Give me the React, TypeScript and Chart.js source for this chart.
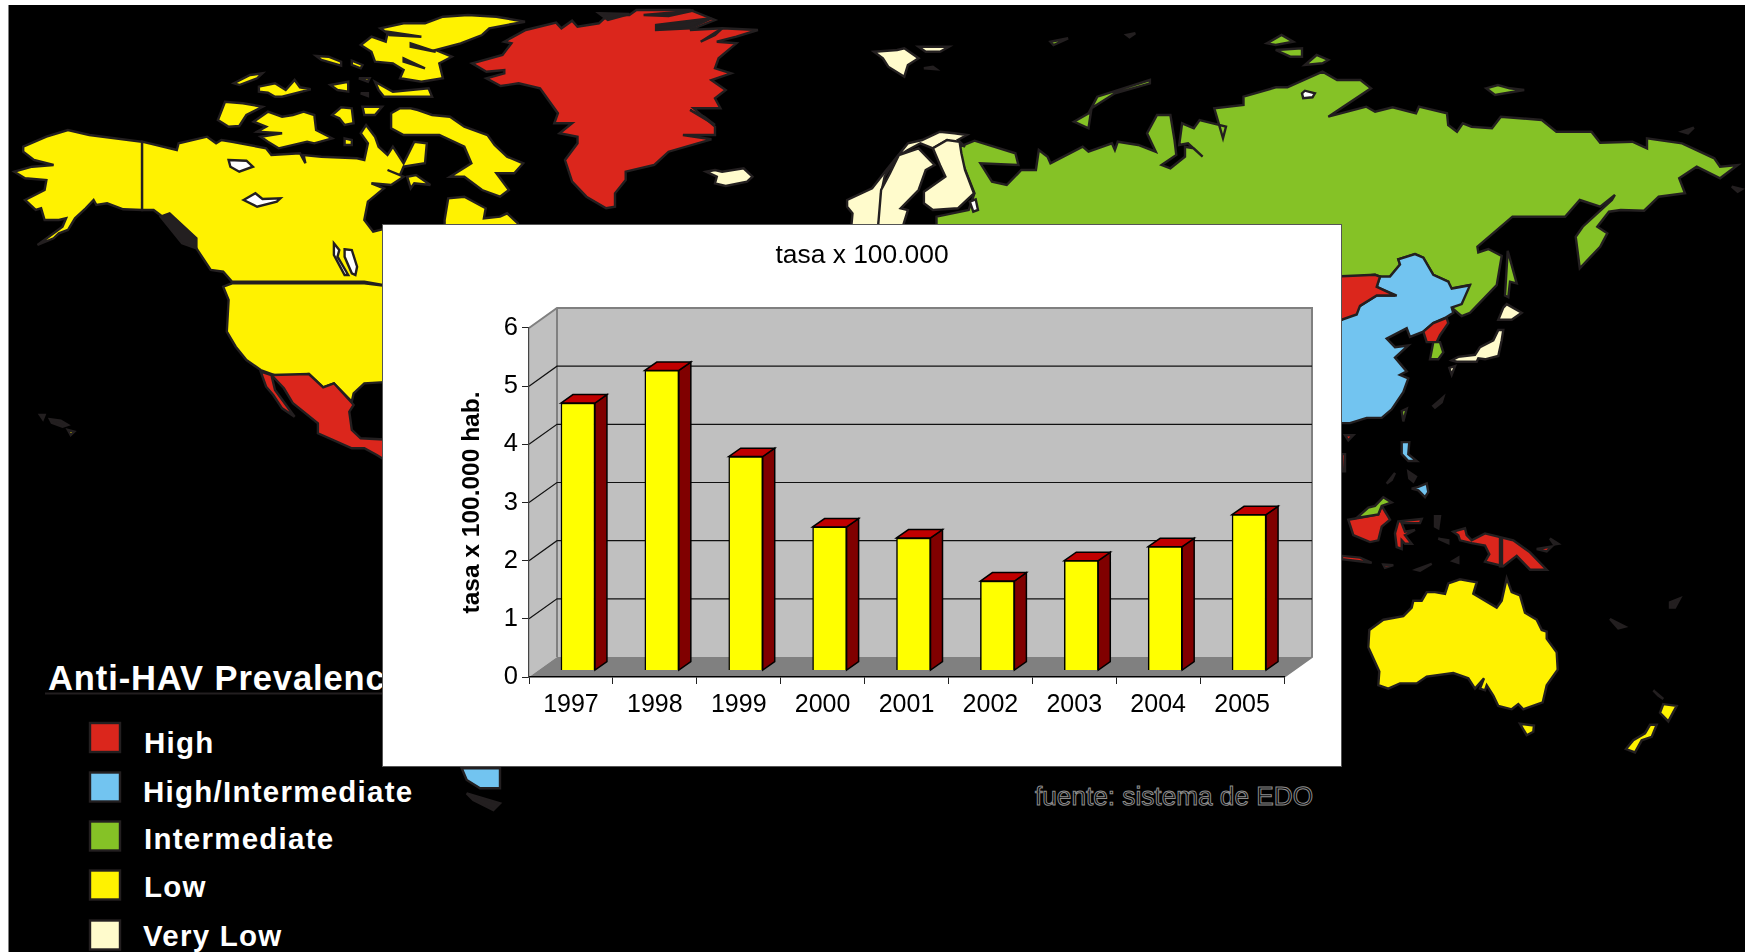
import React, { useEffect, useRef } from "react";
import { Chart, registerables } from "chart.js";

Chart.register(...registerables);

// Chart data
const years = ["1997", "1998", "1999", "2000", "2001", "2002", "2003", "2004", "2005"];
const rates = [4.6, 5.16, 3.68, 2.47, 2.28, 1.54, 1.89, 2.13, 2.68];
const chartTitle = "tasa x 100.000";
const axisTitle = "tasa x 100.000 hab.";
const sourceNote = "fuente: sistema de EDO";

// Legend
const legendTitle = "Anti-HAV Prevalence";
const legendLabels = ["High", "High/Intermediate", "Intermediate", "Low", "Very Low"];
const RED = "#DB261C";
const BLUE = "#72C4F0";
const GREEN = "#85C226";
const YELLOW = "#FFF200";
const CREAM = "#FFFBCC";
const LAKE = "#FFFFFF";
const DARK = "#231F20";
const legendColors = [RED, BLUE, GREEN, YELLOW, CREAM];

// Map outlines are stored per drawing sheet, each with its own origin and scale.
type Sheet = { ox: number; oy: number; sx: number; sy: number };
const WEST: Sheet = { ox: 0, oy: 0, sx: 2.8, sy: 3 };
const ATLANTIC: Sheet = { ox: 440, oy: 0, sx: 2.8, sy: 3 };
const SIBERIA: Sheet = { ox: 840, oy: 0, sx: 1.71, sy: 3 };
const PACIFIC: Sheet = { ox: 1330, oy: 230, sx: 3, sy: 2.9 };
const SOUTH: Sheet = { ox: 0, oy: 640, sx: 3, sy: 3 };

type Region = { fill: string; parts: [Sheet, string][] };
const one = (fill: string, sheet: Sheet, pts: string): Region => ({ fill, parts: [[sheet, pts]] });

const northAmerica: Region[] = [
  one(YELLOW, WEST, "65,440 130,410 190,390 250,405 398,425 398,630 345,628 300,610 270,615 262,600 240,625 210,655 190,690 165,700 150,715 105,735 150,700 175,680 185,655 165,660 125,660 115,625 100,630 70,600 125,570 130,540 70,535 40,515 90,500 150,495 95,480 65,455"),
  one(YELLOW, WEST, "398,425 495,450 500,430 580,410 605,430 620,420 650,425 745,445 760,465 840,460 855,490 850,465 900,470 1000,475 1020,480 1030,430 1010,400 1025,375 1050,410 1060,440 1085,465 1100,440 1130,490 1160,425 1195,430 1190,490 1130,500 1120,525 1085,510 1130,530 1095,555 1040,550 1075,565 1030,605 1020,660 1045,695 1100,680 1100,860 1020,845 650,845 625,815 590,810 550,745 510,715 455,650 430,630 398,630"),
  one(YELLOW, WEST, "1245,660 1255,595 1300,590 1360,625 1355,655 1400,650 1420,640 1450,670 1450,720 1245,720"),
  one(YELLOW, WEST, "650,850 1020,850 1100,860 1100,1145 1020,1150 990,1180 985,1205 935,1150 905,1162 865,1122 780,1130 730,1110 690,1080 660,1040 635,995 640,900 625,860"),
  one(RED, WEST, "760,1125 865,1122 905,1162 935,1150 985,1208 990,1215 978,1235 985,1290 1010,1315 1100,1320 1100,1395 1055,1365 1020,1345 985,1345 890,1300 890,1270 820,1210 795,1165"),
  one(RED, WEST, "730,1115 760,1125 770,1170 825,1250 790,1225 765,1185 745,1160"),
  one(YELLOW, WEST, "610,360 630,305 680,310 735,320 690,345 670,378 640,380"),
  one(YELLOW, WEST, "710,365 750,335 790,350 820,345 850,335 880,345 885,390 930,415 880,430 860,425 780,445 750,425 730,410 790,400 720,395 745,380"),
  one(YELLOW, WEST, "655,250 700,225 735,220 720,235 670,255"),
  one(YELLOW, WEST, "725,260 770,250 800,270 825,240 840,262 870,268 790,290 770,290 750,278 725,275"),
  one(YELLOW, WEST, "885,168 920,170 955,185 955,197 900,180"),
  one(YELLOW, WEST, "985,182 1015,195 1010,205 985,195"),
  one(YELLOW, WEST, "925,255 975,245 975,275 945,270"),
  one(YELLOW, WEST, "1005,235 1035,235 1030,245"),
  one(YELLOW, WEST, "1050,245 1100,275 1200,265 1210,290 1100,290 1075,290 1060,270"),
  one(YELLOW, WEST, "1010,280 1030,280 1030,288"),
  one(YELLOW, WEST, "930,345 955,322 985,325 990,370 965,375 950,355"),
  one(YELLOW, WEST, "1015,320 1070,320 1050,345 1020,345"),
  one(YELLOW, WEST, "965,415 985,420 985,435 965,435"),
  one(YELLOW, WEST, "1010,135 1040,110 1080,125 1085,100 1065,85 1130,70 1190,70 1240,50 1310,45 1390,50 1470,65 1370,85 1350,105 1290,130 1220,150 1265,170 1230,190 1240,235 1180,245 1120,235 1130,210 1100,190 1050,185 1040,155"),
  one(DARK, WEST, "1085,95 1180,110 1090,105"),
  one(DARK, WEST, "1150,130 1220,155 1150,140"),
  one(DARK, WEST, "1130,175 1190,205 1130,185"),
  one(YELLOW, WEST, "1095,340 1120,325 1150,325 1170,330 1210,345 1260,350 1300,380 1365,405 1385,435 1420,470 1465,490 1440,520 1390,520 1425,570 1400,590 1350,570 1300,530 1260,530 1320,490 1300,440 1230,405 1130,405 1095,385"),
  one(YELLOW, WEST, "1140,530 1165,525 1205,555 1160,550 1150,565"),
  one(DARK, WEST, "450,650 475,640 550,715 550,745 510,730"),
  one(LAKE, WEST, "640,480 690,482 708,500 670,515 645,500"),
  one(LAKE, WEST, "682,600 715,580 735,597 785,595 775,605 720,620"),
  one(LAKE, WEST, "935,730 950,750 945,770 975,825 965,825 935,765"),
  one(LAKE, WEST, "965,748 985,750 1000,800 995,825 985,820 965,770"),
  one(DARK, WEST, "112,1245 125,1245 120,1258"),
  one(DARK, WEST, "140,1258 170,1262 190,1275 175,1280 145,1268"),
  one(YELLOW, WEST, "190,1290 208,1295 198,1305"),
  one(BLUE, SOUTH, "1385,385 1500,385 1500,445 1440,445 1400,420"),
  one(DARK, SOUTH, "1400,460 1500,490 1480,510 1420,480"),
];

const greenlandAndNordics: Region[] = [
  one(RED, ATLANTIC, "90,190 175,165 200,130 180,125 240,90 325,68 340,85 370,62 385,80 445,70 470,45 530,45 550,30 700,30 770,60 700,90 790,85 890,90 830,110 775,125 830,130 780,175 770,205 815,220 760,240 800,270 770,295 785,325 710,325 770,380 770,405 680,405 760,418 640,455 600,495 520,515 520,540 490,580 490,620 465,625 410,590 370,545 350,480 385,430 385,410 335,400 370,370 320,370 330,340 280,265 220,250 170,258 130,235 180,220 180,210 130,215"),
  one(DARK, ATLANTIC, "605,75 760,55 700,85 605,90"),
  one(DARK, ATLANTIC, "730,125 790,85 770,105"),
  one(DARK, ATLANTIC, "570,45 710,32 640,48"),
  one(DARK, ATLANTIC, "445,40 530,42 470,60"),
  one(DARK, ATLANTIC, "700,330 770,375 740,350"),
  one(CREAM, ATLANTIC, "745,515 770,510 790,515 850,505 875,530 860,545 800,558 770,550 775,530"),
  one(CREAM, ATLANTIC, "1215,155 1280,150 1300,145 1340,175 1310,195 1300,230 1255,200 1240,175"),
  one(CREAM, ATLANTIC, "1340,140 1425,140 1400,155 1360,155"),
  one(CREAM, ATLANTIC, "1355,205 1380,200 1390,208"),
];

const eurasia: Region[] = [
  {
    fill: GREEN,
    parts: [
      [SIBERIA, "205,440 230,422 300,460 305,495 240,490 260,545 285,555 310,510 335,510 340,450 355,470 360,490 415,440 425,455 465,430 470,450 475,425 510,435 540,455 525,400 542,345 565,345 572,420 575,465 550,495 565,505 590,470 590,440 605,445 620,470 595,430 580,435 585,370 605,385 615,360 660,380 655,415 640,325 690,315 690,290 745,262 765,262 825,215 850,240 890,240 908,265 835,350 900,320 915,335 945,322 985,340 990,320 1038,340 1040,375 1055,395 1065,370 1080,380 1115,385 1130,350 1200,360 1225,395 1285,395 1300,428 1355,425 1380,445 1380,415 1440,430 1495,475 1505,500 1535,495 1505,535 1465,500 1435,535 1445,580 1400,590 1375,632 1335,630 1315,635 1295,680 1312,700 1300,740 1265,805 1258,710 1270,680 1320,600 1325,585 1300,620 1265,600 1240,650 1150,650 1090,740"],
      [PACIFIC, "445,65 475,55 515,75 500,160 420,240 395,250 365,225 415,160 360,170 355,150 310,130 280,80 255,70 205,85 210,100 180,135 150,135 135,130 35,140 -300,140"],
      [SIBERIA, "165,680 165,650 220,630 230,580 205,470"],
    ],
  },
  one(LAKE, SIBERIA, "222,605 232,598 236,630 228,635"),
  one(LAKE, SIBERIA, "790,280 795,272 812,280 808,292 792,295"),
  one(GREEN, SIBERIA, "400,365 425,340 440,290 530,240 530,250 470,280 430,325 425,385"),
  one(GREEN, SIBERIA, "730,130 755,105 775,125 745,135"),
  one(GREEN, SIBERIA, "745,150 790,145 790,170 770,170"),
  one(GREEN, SIBERIA, "795,195 815,165 835,180 825,190"),
  one(GREEN, SIBERIA, "1105,265 1125,255 1145,265 1170,270 1120,285"),
  one(GREEN, SIBERIA, "360,125 390,115 365,135"),
  one(GREEN, SIBERIA, "490,105 505,100 495,112"),
  one(DARK, SIBERIA, "1440,395 1460,383 1450,400"),
  one(DARK, SIBERIA, "1525,560 1542,568 1535,575"),
  one(CREAM, ATLANTIC, "1140,600 1210,565 1250,510 1310,430 1350,420 1400,395 1440,400 1475,405 1450,420 1470,440 1420,420 1380,445 1345,430 1310,450 1280,470 1245,530 1235,580 1235,620 1225,700 1150,700 1155,640 1140,620"),
  one(CREAM, ATLANTIC, "1235,570 1260,520 1285,465 1340,445 1385,495 1360,510 1340,570 1290,625 1310,630 1290,700 1225,700"),
  one(CREAM, ATLANTIC, "1380,445 1420,420 1455,425 1460,460 1470,510 1495,580 1450,625 1380,630 1355,610 1355,575 1415,530 1400,495"),
  one(BLUE, PACIFIC, "-100,260 35,260 90,220 140,190 200,190 140,165 150,135 180,135 210,100 205,85 255,70 280,80 310,130 355,150 365,170 420,160 395,215 365,225 370,240 345,255 310,270 280,295 240,310 230,285 170,315 195,340 235,335 195,370 230,410 210,420 235,430 220,470 185,520 155,545 110,545 60,560 -100,560"),
  one(RED, PACIFIC, "-100,140 135,130 150,135 140,165 195,190 140,190 90,220 80,245 35,260 -100,260"),
  one(RED, PACIFIC, "350,255 355,270 330,305 320,325 290,325 280,295 310,270"),
  one(GREEN, PACIFIC, "310,325 330,325 340,355 325,375 300,375"),
  one(GREEN, PACIFIC, "533,60 560,155 540,150 535,195 525,190"),
  one(CREAM, PACIFIC, "520,225 530,215 575,240 545,260 505,260"),
  one(CREAM, PACIFIC, "505,290 520,290 515,320 505,365 465,375 445,372 440,382 380,382 365,378 385,368 435,362 450,340 490,320"),
  one(CREAM, PACIFIC, "358,400 375,395 365,420"),
  one(GREEN, PACIFIC, "215,525 230,518 220,555"),
  one(RED, PACIFIC, "45,595 70,595 55,610"),
  one(RED, PACIFIC, "36,650 45,650 45,700 38,700"),
];

const oceania: Region[] = [
  one(BLUE, PACIFIC, "215,615 238,615 235,650 260,670 235,670 215,650"),
  one(BLUE, PACIFIC, "245,750 265,745 290,735 295,760 285,775 265,755"),
  one(DARK, PACIFIC, "310,510 340,485 335,500 315,515"),
  one(DARK, PACIFIC, "170,735 195,705 185,725"),
  one(DARK, PACIFIC, "235,700 258,715 250,730 238,720"),
  one(DARK, PACIFIC, "315,830 330,830 325,865 315,860"),
  one(DARK, PACIFIC, "325,895 355,900 355,908"),
  one(DARK, PACIFIC, "258,985 305,968 270,988"),
  one(DARK, PACIFIC, "368,960 385,950 385,965"),
  one(DARK, PACIFIC, "660,895 685,910 672,912"),
  one(DARK, PACIFIC, "840,1128 885,1150 865,1155"),
  one(DARK, PACIFIC, "1020,1080 1050,1068 1035,1095 1020,1095"),
  one(RED, PACIFIC, "55,840 145,825 155,800 180,840 155,860 145,900 120,905 70,885"),
  one(GREEN, PACIFIC, "80,835 115,805 135,800 160,775 185,790 155,800 145,825"),
  one(RED, PACIFIC, "205,845 275,838 270,850 215,850 225,875 255,870 225,885 245,910 225,910 215,900 215,925 200,920 195,880"),
  one(RED, PACIFIC, "370,875 405,865 410,885 425,900 465,880 550,900 600,935 650,985 600,985 560,945 520,975 465,962 478,940 465,915 425,908 390,900 385,885"),
  one(DARK, PACIFIC, "510,893 516,895 516,975 510,975"),
  one(RED, PACIFIC, "36,945 90,950 125,965 36,955"),
  one(RED, PACIFIC, "160,970 190,972 165,980"),
  one(RED, PACIFIC, "620,925 665,918 650,932"),
  one(YELLOW, PACIFIC, "118,1160 160,1130 220,1120 245,1095 250,1075 275,1075 290,1050 315,1050 345,1055 355,1025 390,1013 440,1022 430,1055 500,1095 515,1075 530,1010 545,1050 570,1060 585,1110 620,1130 635,1160 650,1165 650,1185 680,1225 683,1275 650,1320 638,1370 580,1390 565,1375 545,1390 505,1380 490,1350 470,1320 465,1335 450,1330 462,1300 435,1330 415,1300 370,1285 290,1295 260,1315 210,1315 175,1330 145,1320 148,1280 115,1210"),
  one(YELLOW, PACIFIC, "570,1432 612,1437 610,1455 590,1465"),
  one(YELLOW, PACIFIC, "1000,1375 1040,1380 1015,1425 990,1400"),
  one(YELLOW, PACIFIC, "960,1435 980,1435 965,1470 935,1480 915,1515 888,1505 910,1480 945,1460"),
  one(DARK, PACIFIC, "970,1335 1000,1360 985,1350"),
];

const landmasses = [...northAmerica, ...greenlandAndNordics, ...eurasia, ...oceania];

const regionPoints = (region: Region) =>
  region.parts
    .map(([s, pts]) =>
      pts
        .split(" ")
        .map((p) => {
          const [x, y] = p.split(",").map(Number);
          return `${(s.ox + x / s.sx).toFixed(1)},${(s.oy + y / s.sy).toFixed(1)}`;
        })
        .join(" ")
    )
    .join(" ");

// Legend layout
const swatchTops = [723, 772.5, 821.5, 870.5, 920.5];
const labelBaselines = [752.5, 801.5, 849, 896.5, 945.5];
const labelLefts = [144, 143, 144, 144, 143];

// 3D frame of the column chart
const WALL_DX = 28;
const WALL_DY = 20;
const BAR_SHIFT_X = 7;
const BAR_SHIFT_Y = -6.4;
const BAR_DX = 12;
const BAR_DY = 8.4;

const poly = (ctx: CanvasRenderingContext2D, pts: number[][], fill?: string, stroke?: string, width = 1) => {
  ctx.beginPath();
  pts.forEach(([x, y], i) => (i ? ctx.lineTo(x, y) : ctx.moveTo(x, y)));
  ctx.closePath();
  if (fill) {
    ctx.fillStyle = fill;
    ctx.fill();
  }
  if (stroke) {
    ctx.strokeStyle = stroke;
    ctx.lineWidth = width;
    ctx.lineJoin = "miter";
    ctx.stroke();
  }
};

const wallsPlugin = {
  id: "walls",
  beforeDraw(chart: any) {
    const { ctx, chartArea: a, scales } = chart;
    const { left: L, right: R, top: T, bottom: B } = a;
    const dx = WALL_DX;
    const dy = WALL_DY;
    ctx.save();
    poly(ctx, [[L + dx, T - dy], [R + dx, T - dy], [R + dx, B - dy], [L + dx, B - dy]], "#C0C0C0");
    poly(ctx, [[L, T], [L + dx, T - dy], [L + dx, B - dy], [L, B]], "#C0C0C0");
    poly(ctx, [[L, B], [L + dx, B - dy], [R + dx, B - dy], [R, B]], "#808080");
    ctx.strokeStyle = "#808080";
    ctx.lineWidth = 2;
    ctx.beginPath();
    ctx.moveTo(L, T);
    ctx.lineTo(L + dx, T - dy);
    ctx.lineTo(R + dx, T - dy);
    ctx.lineTo(R + dx, B - dy);
    ctx.lineTo(R, B);
    ctx.moveTo(L + dx, T - dy);
    ctx.lineTo(L + dx, B - dy);
    ctx.stroke();
    ctx.strokeStyle = "#111";
    ctx.lineWidth = 1.2;
    scales.y.ticks.forEach((t: any) => {
      if (t.value === scales.y.min || t.value === scales.y.max) return;
      const y = scales.y.getPixelForValue(t.value);
      ctx.beginPath();
      ctx.moveTo(L, y);
      ctx.lineTo(L + dx, y - dy);
      ctx.lineTo(R + dx, y - dy);
      ctx.stroke();
    });
    ctx.restore();
  },
  beforeDatasetDraw(chart: any, args: any) {
    const { ctx } = chart;
    ctx.save();
    ctx.translate(BAR_SHIFT_X, BAR_SHIFT_Y);
    args.meta.data.forEach((el: any) => {
      const { x, y, base, width } = el.getProps(["x", "y", "base", "width"], true);
      const l = x - width / 2;
      const r = x + width / 2;
      poly(ctx, [[r, y], [r + BAR_DX, y - BAR_DY], [r + BAR_DX, base - BAR_DY], [r, base]], "#800000", "#000", 1.5);
      poly(ctx, [[l, y], [l + BAR_DX, y - BAR_DY], [r + BAR_DX, y - BAR_DY], [r, y]], "#C00000", "#000", 1.5);
    });
  },
  afterDatasetDraw(chart: any) {
    chart.ctx.restore();
  },
};

const FONT = "'Liberation Sans', Arial, sans-serif";

export default function App() {
  const ref = useRef<HTMLCanvasElement>(null);

  useEffect(() => {
    if (!ref.current) return;
    const chart = new Chart(ref.current, {
      type: "bar",
      data: {
        labels: years,
        datasets: [
          {
            label: axisTitle,
            data: rates,
            backgroundColor: "#FFFF00",
            borderColor: "#000",
            borderWidth: 1.5,
            barThickness: 34,
            clip: false,
          } as any,
        ],
      },
      plugins: [wallsPlugin],
      options: {
        animation: false,
        responsive: false,
        devicePixelRatio: 1,
        layout: { padding: { left: 57, right: 57, top: 0, bottom: 0 } },
        plugins: {
          legend: { display: false },
          tooltip: { enabled: false },
          title: {
            display: true,
            text: chartTitle,
            color: "#000",
            font: { family: FONT, size: 26.4, weight: "normal", lineHeight: 1.2 },
            padding: { top: 15, bottom: 56.3 },
          },
        },
        scales: {
          x: {
            afterFit: (s: any) => {
              s.height = 89;
            },
            border: { display: true, color: "#000", width: 1.5 },
            grid: { display: true, offset: true, drawOnChartArea: false, drawTicks: true, tickLength: 7, tickColor: "#222", tickWidth: 1 },
            ticks: { color: "#000", font: { family: FONT, size: 25 }, padding: 6, maxRotation: 0, autoSkip: false },
          },
          y: {
            min: 0,
            max: 6,
            afterFit: (s: any) => {
              s.width = 89;
            },
            border: { display: true, color: "#444", width: 1.2 },
            grid: { display: true, drawOnChartArea: false, drawTicks: true, tickLength: 7, tickColor: "#222", tickWidth: 1 },
            ticks: { color: "#000", stepSize: 1, font: { family: FONT, size: 25.5 }, padding: 4 },
            title: {
              display: true,
              text: axisTitle,
              color: "#000",
              font: { family: FONT, size: 24.5, weight: "bold", lineHeight: 1.2 },
              padding: { top: 18, bottom: 0 },
            },
          },
        },
      },
    } as any);
    return () => chart.destroy();
  }, []);

  return (
    <div style={{ position: "fixed", left: 0, top: 0, width: 1751, height: 952, background: "#fff", overflow: "hidden" }}>
      <svg width={1751} height={952} style={{ position: "absolute", left: 0, top: 0 }}>
        <rect x={8.5} y={5} width={1736.5} height={947} fill="#000" />
        {landmasses.map((r, i) => (
          <polygon
            key={i}
            points={regionPoints(r)}
            fill={r.fill}
            stroke={DARK}
            strokeWidth={2.4}
            strokeLinejoin="miter"
          />
        ))}
        <text x={48} y={690} fill="#fff" fontFamily={FONT} fontWeight="bold" fontSize={34.5} letterSpacing={0.9}>
          {legendTitle}
        </text>
        <line x1={45} y1={693.5} x2={383} y2={693.5} stroke={DARK} strokeWidth={2} />
        {legendLabels.map((label, i) => (
          <g key={label}>
            <rect x={90} y={swatchTops[i]} width={30} height={29} fill={legendColors[i]} stroke={DARK} strokeWidth={2.4} />
            <text
              x={labelLefts[i]}
              y={labelBaselines[i]}
              fill="#fff"
              fontFamily={FONT}
              fontWeight="bold"
              fontSize={29.5}
              letterSpacing={1.25}
            >
              {label}
            </text>
          </g>
        ))}
        <text
          x={1035}
          y={805}
          fill="none"
          stroke="#8C8C8C"
          strokeWidth={1}
          fontFamily={FONT}
          fontSize={26.2}
          style={{ textRendering: "geometricPrecision" }}
        >
          {sourceNote}
        </text>
      </svg>
      <canvas
        ref={ref}
        width={958}
        height={541}
        style={{ position: "absolute", left: 383, top: 225, background: "#fff", outline: "1px solid #555" }}
      />
    </div>
  );
}
